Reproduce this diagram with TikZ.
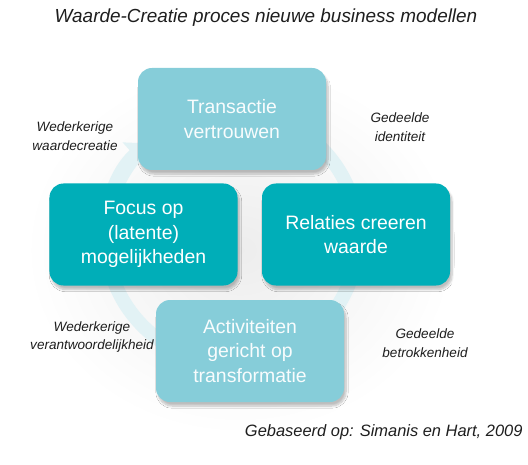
\documentclass[tikz,border=0pt]{standalone}
\usepackage{fontspec}
\setmainfont{Liberation Sans}
\usetikzlibrary{arrows.meta,shadows.blur}

\definecolor{lichtblauw}{RGB}{134,205,217}
\definecolor{petrol}{RGB}{0,174,184}
\definecolor{ringkleur}{RGB}{226,242,245}
\definecolor{tekstgrijs}{RGB}{30,30,30}

\tikzset{
  blok/.style={rounded corners=14bp, minimum width=188bp, minimum height=102bp,
    align=center, font=\fontsize{19.5}{24.5}\selectfont,
    blur shadow={shadow xshift=2bp, shadow yshift=-4bp, shadow blur steps=8, shadow opacity=25}},
  lichtblok/.style={blok, fill=lichtblauw, text=white!94!lichtblauw},
  donkerblok/.style={blok, fill=petrol, text=white},
  bijschrift/.style={align=center, text=tekstgrijs, font=\fontsize{13.6}{19}\selectfont\itshape},
}

\begin{document}
\begin{tikzpicture}[x=1bp, y=-1bp]
\useasboundingbox (0,0) rectangle (528,465);

% =====================
% ACHTERGROND EN RING
% =====================
\shade[inner color=black!7, outer color=white] (240,250) ellipse (215 and 185);
\draw[ringkleur, line width=14bp] (232,237) circle (126);
\draw[ringkleur, line width=14bp, -{Triangle[length=18bp,width=34bp]}]
  (232,237) ++(160:126) arc (160:228:126);

% =====================
% BLOKKEN
% =====================
\node[lichtblok] (transactie) at (232,119) {Transactie\\vertrouwen};
\node[donkerblok] (focus) at (143.5,234.5) {Focus op\\(latente)\\mogelijkheden};
\node[donkerblok] (relaties) at (356,234.5) {Relaties creeren\\waarde};
\node[lichtblok] (activiteiten) at (250,351) {Activiteiten\\gericht op\\transformatie};

% =====================
% BIJSCHRIFTEN
% =====================
\node[bijschrift] (waardecreatie) at (75,136) {Wederkerige\\waardecreatie};
\node[bijschrift] (identiteit) at (400,127) {Gedeelde\\identiteit};
\node[bijschrift] (verantwoordelijkheid) at (92,337) {Wederkerige\\verantwoordelijkheid};
\node[bijschrift] (betrokkenheid) at (425,343) {Gedeelde\\betrokkenheid};

% =====================
% TITEL EN BRON
% =====================
\node[text=tekstgrijs, font=\fontsize{19}{22}\selectfont\itshape] (titel) at (266,18)
  {Waarde-Creatie proces nieuwe business modellen};
\node[text=tekstgrijs, font=\fontsize{16.5}{20}\selectfont\itshape, anchor=east] (bron) at (526,432)
  {Gebaseerd op: Simanis en Hart, 2009};

\end{tikzpicture}
\end{document}
